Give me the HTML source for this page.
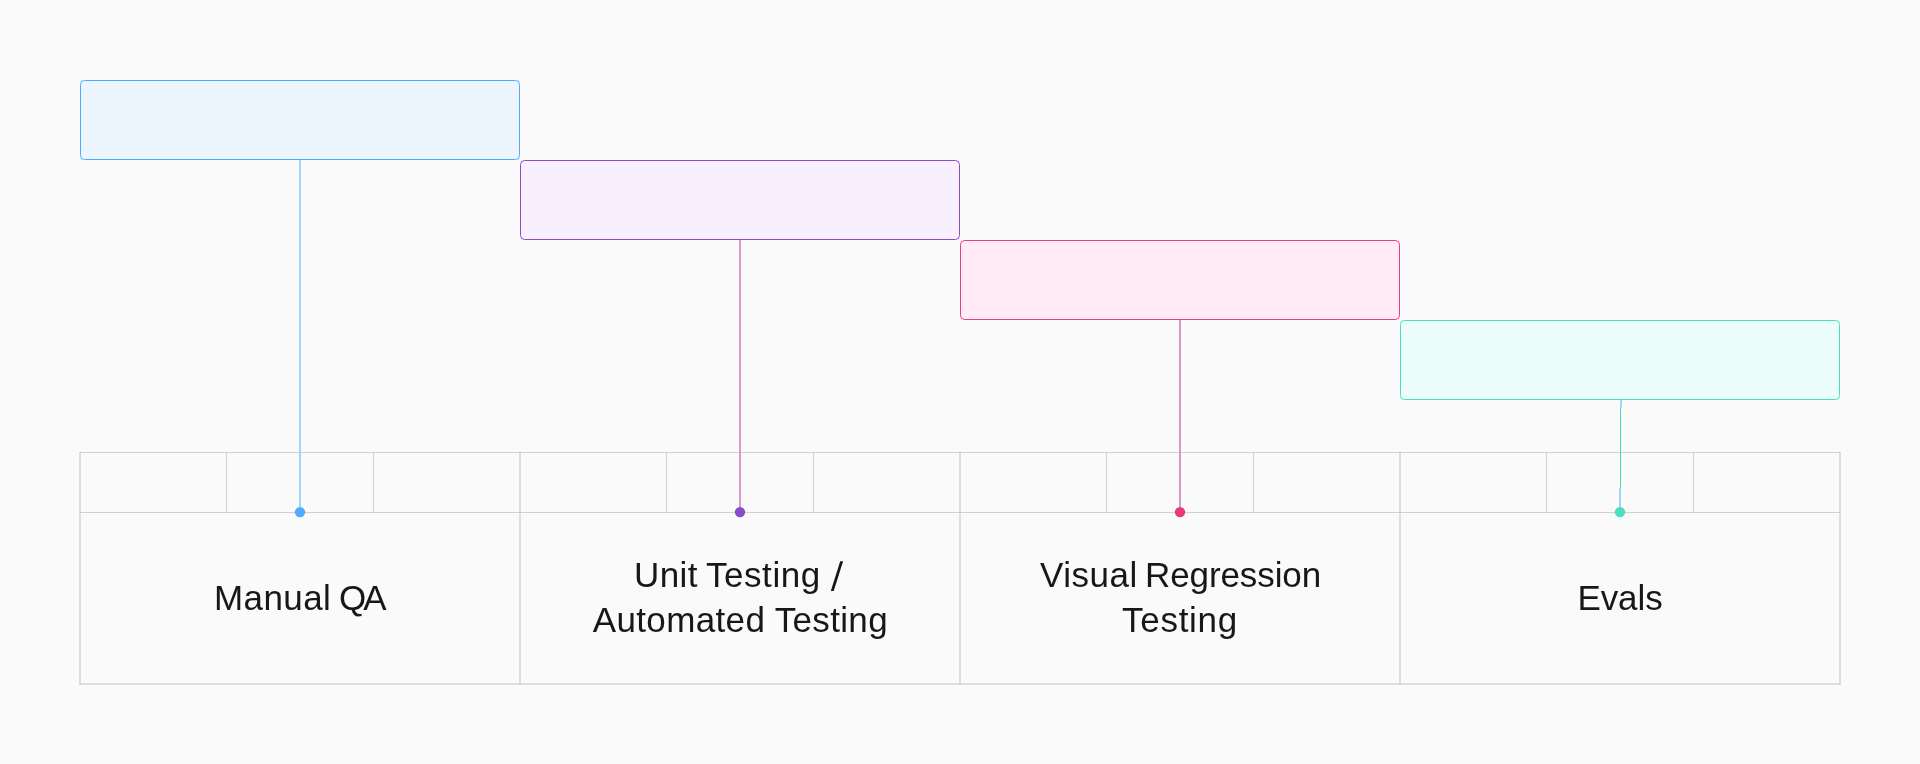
<!DOCTYPE html>
<html>
<head>
<meta charset="utf-8">
<style>
html,body{margin:0;padding:0;}
body{width:1920px;height:764px;background:#fafafa;position:relative;overflow:hidden;font-family:"Liberation Sans",sans-serif;}
.vl{position:absolute;width:2px;}
.t{position:absolute;font-size:35px;color:#171717;white-space:nowrap;text-align:center;line-height:45px;will-change:transform;}
</style>
</head>
<body>
<svg style="position:absolute;left:0;top:0" width="1920" height="764" viewBox="0 0 1920 764">
<rect x="80.5" y="80.5" width="439" height="79" rx="4" fill="#edf5fe" stroke="#52abfc"/>
<rect x="520.5" y="160.5" width="439" height="79" rx="4" fill="#f8f0fe" stroke="#8f4cc7"/>
<rect x="960.5" y="240.5" width="439" height="79" rx="4" fill="#feebf4" stroke="#e73b84"/>
<rect x="1400.5" y="320.5" width="439" height="79" rx="4" fill="#ecfcf8" stroke="#48dcc1"/>
</svg>

<!-- table grid -->
<svg style="position:absolute;left:0;top:0" width="1920" height="764" viewBox="0 0 1920 764">
<g stroke="#d0d0d0" stroke-width="1" fill="none">
<line x1="79.5" y1="452.5" x2="1840.5" y2="452.5"/>
<line x1="80" y1="512.5" x2="1840" y2="512.5"/>
<line x1="79.5" y1="684" x2="1840.5" y2="684" stroke="#c2c2c2"/>
<line x1="80" y1="452" x2="80" y2="684.5" stroke="#c2c2c2"/>
<line x1="520" y1="452" x2="520" y2="684.5" stroke="#c2c2c2"/>
<line x1="960" y1="452" x2="960" y2="684.5" stroke="#c2c2c2"/>
<line x1="1400" y1="452" x2="1400" y2="684.5" stroke="#c2c2c2"/>
<line x1="1840" y1="452" x2="1840" y2="684.5" stroke="#c2c2c2"/>
<line x1="226.5" y1="452" x2="226.5" y2="512"/>
<line x1="373.5" y1="452" x2="373.5" y2="512"/>
<line x1="666.5" y1="452" x2="666.5" y2="512"/>
<line x1="813.5" y1="452" x2="813.5" y2="512"/>
<line x1="1106.5" y1="452" x2="1106.5" y2="512"/>
<line x1="1253.5" y1="452" x2="1253.5" y2="512"/>
<line x1="1546.5" y1="452" x2="1546.5" y2="512"/>
<line x1="1693.5" y1="452" x2="1693.5" y2="512"/>
</g>
</svg>

<!-- connector lines -->
<div class="vl" style="left:299px;top:160px;height:348px;background:#a4d5fb;"></div>
<div class="vl" style="left:739px;top:240px;height:268px;background:#d59bd3;"></div>
<div class="vl" style="left:1179px;top:320px;height:188px;background:#d59ad3;"></div>
<div class="vl" style="left:1620px;top:400px;height:7px;background:#a5d3fb;"></div>
<div style="position:absolute;left:1620px;top:407px;width:1px;height:81px;background:#45dbc0;"></div>
<div class="vl" style="left:1619px;top:488px;height:20px;background:#a5d3fb;"></div>

<!-- dots -->
<svg style="position:absolute;left:0;top:0" width="1920" height="764" viewBox="0 0 1920 764">
<circle cx="300" cy="512.1" r="5.2" fill="#52abfd"/>
<circle cx="740" cy="512.1" r="5.2" fill="#8a4bcb"/>
<circle cx="1180" cy="512.1" r="5.2" fill="#e93a7e"/>
<circle cx="1620" cy="512.1" r="5.2" fill="#48dfc2"/>
</svg>

<!-- labels -->
<div class="t" style="left:213.9px;top:575px;letter-spacing:0.4px;text-align:left;">Manual</div>
<div class="t" style="left:339.2px;top:575px;letter-spacing:-3px;text-align:left;">QA</div>
<div class="t" style="left:634.1px;top:552px;letter-spacing:0.4px;text-align:left;">Unit</div>
<div class="t" style="left:706.1px;top:552px;letter-spacing:0.55px;text-align:left;">Testing</div>
<svg style="position:absolute;left:0;top:0" width="1920" height="764" viewBox="0 0 1920 764"><polygon points="830.8,591 833.7,591 843.1,561.3 840.2,561.3" fill="#171717"/></svg>
<div class="t" style="left:520px;width:440px;top:597px;"><span style="letter-spacing:0.35px;position:relative;left:0.4px">Automated Testing</span></div>
<div class="t" style="left:1040.2px;top:552px;letter-spacing:0.5px;text-align:left;">Visual</div>
<div class="t" style="left:1145.1px;top:552px;letter-spacing:-0.1px;text-align:left;">Regression</div>
<div class="t" style="left:960px;width:440px;top:597px;"><span style="letter-spacing:0.7px">Testing</span></div>
<div class="t" style="left:1400px;width:440px;top:575px;letter-spacing:-0.1px;">Evals</div>
</body>
</html>
